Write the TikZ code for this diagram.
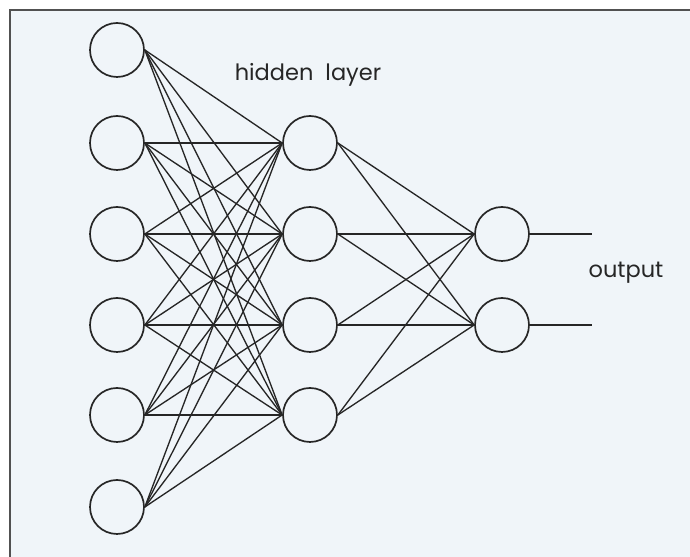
\documentclass[tikz,border=0pt]{standalone}
\usepackage{fontspec}
\setmainfont{Poppins}
\usepackage{tikz}
\usetikzlibrary{positioning, calc}
\usepackage{xcolor}
\definecolor{paper}{HTML}{F0F5F9}
\definecolor{ink}{HTML}{262626}
\tikzstyle{neuron} = [circle, draw=ink, line width=1.2pt, minimum size=1.35cm, inner sep=0pt]
\tikzstyle{link} = [draw=ink, line width=0.95pt]

\begin{document}
\begin{tikzpicture}[every node/.style={font=\fontsize{16}{18}\selectfont, text=ink}]
  % Page and frame
  \useasboundingbox (0,0) rectangle (17.25,13.925);
  \fill[paper] (0.25,0) rectangle (17.25,13.675);
  \draw[ink!80, line width=0.9pt] (0.25,0) -- (0.25,13.675) -- (17.25,13.675);

  % Input layer
  \node[neuron] (in1) at (2.925,12.675) {};
  \node[neuron] (in2) at (2.925,10.35) {};
  \node[neuron] (in3) at (2.925,8.075) {};
  \node[neuron] (in4) at (2.925,5.8) {};
  \node[neuron] (in5) at (2.925,3.55) {};
  \node[neuron] (in6) at (2.925,1.25) {};

  % Hidden layer
  \node at (7.7,12.05) {hidden\ \ layer};
  \node[neuron] (hid1) at (7.75,10.35) {};
  \node[neuron] (hid2) at (7.75,8.075) {};
  \node[neuron] (hid3) at (7.75,5.8) {};
  \node[neuron] (hid4) at (7.75,3.55) {};

  % Output layer
  \node[neuron] (out1) at (12.55,8.075) {};
  \node[neuron] (out2) at (12.55,5.8) {};
  \coordinate (end1) at (14.8,8.075);
  \coordinate (end2) at (14.8,5.8);
  \node at (15.65,7.1) {output};

  % Connections
  \foreach \i in {1,...,6}
    \foreach \j in {1,...,4}
      \draw[link] (in\i.east) -- (hid\j.west);
  \foreach \j in {1,...,4}
    \foreach \k in {1,2}
      \draw[link] (hid\j.east) -- (out\k.west);
  \draw[link] (out1.east) -- (end1);
  \draw[link] (out2.east) -- (end2);
\end{tikzpicture}
\end{document}
